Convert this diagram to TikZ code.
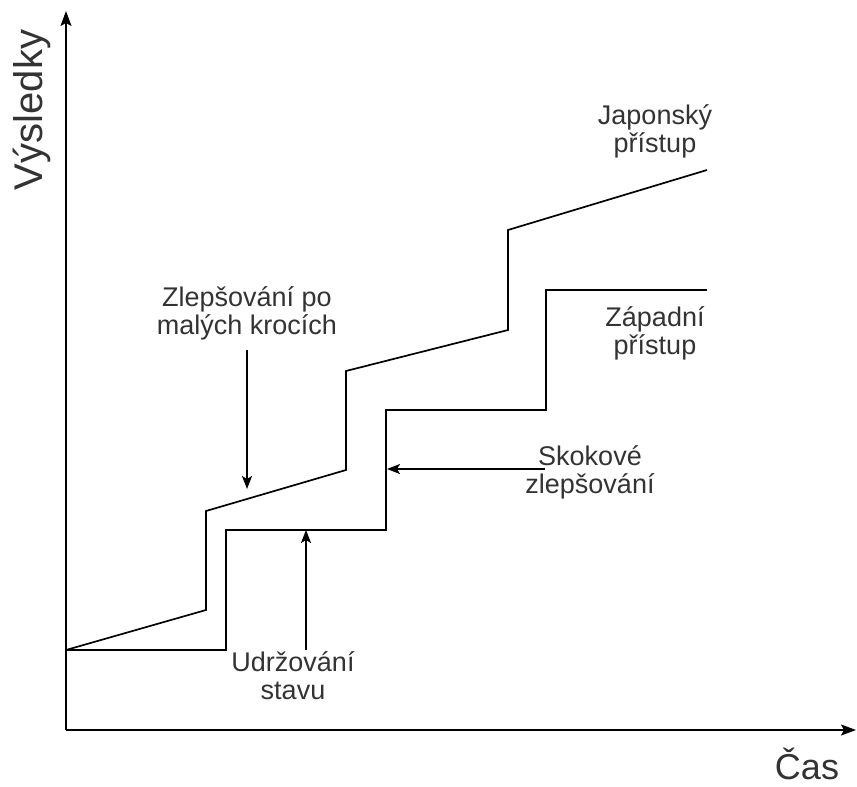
\documentclass[tikz,border=0pt]{standalone}
\usepackage{fontspec}
\setmainfont{Liberation Sans}
\usetikzlibrary{arrows.meta}
\begin{document}
\begin{tikzpicture}[x=1pt,y=-1pt,
  axis/.style={line width=1.5pt, -{Stealth[length=15pt,width=11pt,inset=3pt]}},
  curve/.style={line width=1.7pt, line join=miter},
  pointer/.style={line width=1.5pt, -{Stealth[length=13pt,width=10pt,inset=3pt]}},
  lbl/.style={text=black!80, align=center, font=\fontsize{27}{28}\selectfont, inner sep=0pt},
  axlbl/.style={text=black!80, font=\fontsize{36}{38}\selectfont, inner sep=0pt},
]
\useasboundingbox (0,0) rectangle (857,787);

% axes
\coordinate (O) at (66,730);
\coordinate (ytop) at (66,11);
\coordinate (xend) at (856,730);
\draw[axis] (O) -- (ytop);
\draw[axis] (O) -- (xend);
\node[axlbl, rotate=90, font=\fontsize{40}{42}\selectfont] (vys) at (32,110) {Výsledky};
\node[axlbl] (cas) at (807,764) {Čas};

% continuous improvement
\draw[curve] (66,650) -- (206,610) -- (206,511) -- (346,470) -- (346,371)
  -- (508,330) -- (508,230) -- (707,170);
% step-wise improvement
\draw[curve] (66,650) -- (226,650) -- (226,530) -- (386,530) -- (386,410)
  -- (546,410) -- (546,290) -- (707,290);

% labels
\node[lbl] (jap) at (655,131) {Japonský\\přístup};
\node[lbl] (zap) at (655,333) {Západní\\přístup};
\node[lbl] (zlep) at (247,313) {Zlepšování po\\malých krocích};
\node[lbl] (udrz) at (293,676) {Udržování\\stavu};
\node[lbl] (skok) at (590,472) {Skokové\\zlepšování};

% pointers
\coordinate (zlepA) at (247,350);
\coordinate (zlepB) at (247,489);
\coordinate (udrzA) at (306,650);
\coordinate (udrzB) at (306,530);
\coordinate (skokA) at (545,469);
\coordinate (skokB) at (387,469);
\draw[pointer] (zlepA) -- (zlepB);
\draw[pointer] (udrzA) -- (udrzB);
\draw[pointer] (skokA) -- (skokB);
\end{tikzpicture}
\end{document}
